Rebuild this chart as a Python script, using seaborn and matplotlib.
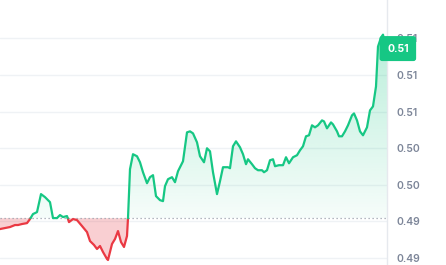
import numpy as np
import pandas as pd
import matplotlib
matplotlib.use("Agg")
import matplotlib.pyplot as plt
import seaborn as sns
from matplotlib.colors import LinearSegmentedColormap, to_rgba
from matplotlib.path import Path
from matplotlib.transforms import blended_transform_factory

# ---- data ----
time_idx = [0, 5, 10, 15, 18, 22, 27, 30, 33, 37, 41, 45, 50, 53, 57, 60, 63, 67, 69, 73,
            77, 82, 87, 90, 94, 97, 100, 103, 107, 108, 112, 115, 118, 121, 124, 127, 128,
            130, 133, 137, 140, 143, 147, 150, 153, 156, 160, 163, 165, 168, 172, 175, 178,
            183, 187, 190, 193, 197, 200, 204, 207, 210, 213, 217, 220, 223, 228, 230, 233,
            236, 240, 243, 246, 248, 252, 255, 258, 262, 264, 267, 270, 273, 275, 279, 283,
            286, 289, 293, 297, 300, 303, 306, 309, 312, 315, 318, 322, 324, 327, 331, 333,
            337, 339, 342, 345, 348, 352, 354, 357, 360, 363, 367, 370, 373, 376, 378, 381,
            383, 385, 387]
price = [0.49316, 0.49327, 0.49338, 0.49360, 0.49360, 0.49371, 0.49381, 0.49425, 0.49480,
         0.49501, 0.49698, 0.49665, 0.49610, 0.49436, 0.49436, 0.49469, 0.49447, 0.49458,
         0.49392, 0.49425, 0.49414, 0.49349, 0.49283, 0.49185, 0.49142, 0.49098, 0.49131,
         0.49065, 0.48989, 0.48978, 0.49153, 0.49207, 0.49294, 0.49174, 0.49120, 0.49240,
         0.49436, 0.49970, 0.50134, 0.50112, 0.50046, 0.49937, 0.49817, 0.49883, 0.49905,
         0.49676, 0.49632, 0.49621, 0.49785, 0.49861, 0.49883, 0.49828, 0.49948, 0.50057,
         0.50373, 0.50384, 0.50362, 0.50264, 0.50112, 0.50046, 0.50199, 0.50166, 0.49937,
         0.49698, 0.49839, 0.49992, 0.49992, 0.49981, 0.50221, 0.50275, 0.50210, 0.50134,
         0.50025, 0.50079, 0.50025, 0.49981, 0.49959, 0.49959, 0.49937, 0.49959, 0.50068,
         0.50079, 0.50003, 0.50014, 0.50014, 0.50101, 0.50035, 0.50101, 0.50123, 0.50177,
         0.50221, 0.50330, 0.50341, 0.50450, 0.50428, 0.50450, 0.50504, 0.50493, 0.50417,
         0.50482, 0.50460, 0.50384, 0.50330, 0.50330, 0.50384, 0.50450, 0.50559, 0.50580,
         0.50504, 0.50384, 0.50341, 0.50428, 0.50613, 0.50657, 0.50875, 0.51311, 0.51409,
         0.51441, 0.51332, 0.51289]
baseline = 0.49435
tick_values = [0.490, 0.494, 0.498, 0.502, 0.506, 0.510, 0.514]
tick_labels = ["0.49", "0.49", "0.50", "0.50", "0.51", "0.51", "0.51"]
current_label = "0.51"

GREEN = "#16c784"
RED = "#ea3943"
GRID = "#eff2f5"
LABEL = "#7d8699"

t = np.array(time_idx, dtype=float)
p = np.array(price, dtype=float)

# split line into above / below baseline segments
rows = []
seg = 0
side = p[0] >= baseline
rows.append((t[0], p[0], seg, "up" if side else "down"))
for i in range(1, len(t)):
    s = p[i] >= baseline
    if s != side:
        f = (baseline - p[i - 1]) / (p[i] - p[i - 1])
        xc = t[i - 1] + f * (t[i] - t[i - 1])
        rows.append((xc, baseline, seg, "up" if side else "down"))
        seg += 1
        side = s
        rows.append((xc, baseline, seg, "up" if side else "down"))
    rows.append((t[i], p[i], seg, "up" if side else "down"))
df = pd.DataFrame(rows, columns=["t", "price", "seg", "side"])

sns.set_theme(style="white")
fig = plt.figure(figsize=(4.46, 2.65), dpi=100)
ax = fig.add_axes([0, 0, 387 / 446, 1])

ymin, ymax = 0.48923, 0.51820
xmin, xmax = t[0], t[-1]

# grid
for v in tick_values:
    ax.axhline(v, color=GRID, lw=1.0, zorder=0)

# green gradient fill
poly = ax.fill_between(t, p, baseline, where=p >= baseline, interpolate=True,
                       facecolor="none", edgecolor="none")
path = Path.make_compound_path(*poly.get_paths())
cmap_g = LinearSegmentedColormap.from_list(
    "g", [to_rgba(GREEN, 0.04), to_rgba(GREEN, 0.30)])
grad = np.linspace(0, 1, 256).reshape(-1, 1)
im = ax.imshow(grad, extent=[xmin, xmax, baseline, 0.5145], origin="lower",
               aspect="auto", cmap=cmap_g, zorder=1, interpolation="bicubic")
im.set_clip_path(path, ax.transData)

# red fill
ax.fill_between(t, p, baseline, where=p < baseline, interpolate=True,
                facecolor=RED, alpha=0.24, edgecolor="none", zorder=1)

# baseline dotted
ax.axhline(baseline, color="#9aa1ad", lw=0.9, ls=(0, (1, 2.2)), zorder=2)

# line
sns.lineplot(data=df, x="t", y="price", hue="side", units="seg", estimator=None,
             palette={"up": GREEN, "down": RED}, legend=False, lw=1.6, sort=False,
             ax=ax, zorder=3)

ax.set_xlim(xmin, xmax)
ax.set_ylim(ymin, ymax)
ax.set_xlabel("")
ax.set_ylabel("")
ax.set_xticks([])
ax.yaxis.tick_right()
ax.set_yticks(tick_values)
ax.set_yticklabels(tick_labels)
ax.tick_params(axis="y", length=0, pad=7, labelsize=7.5, labelcolor=LABEL)
for lab in ax.get_yticklabels():
    lab.set_fontfamily(["Inter", "DejaVu Sans"])
    lab.set_fontweight("semibold")
for sp in ["top", "left", "bottom"]:
    ax.spines[sp].set_visible(False)
ax.spines["right"].set_color("#e6e9ee")
ax.spines["right"].set_linewidth(1.0)

# current price tag
tr = blended_transform_factory(ax.transAxes, ax.transData)
ax.text(1.0, p[-1], current_label, transform=tr, ha="left", va="center",
        fontsize=7.5, fontweight="bold", color="white", family=["Inter", "DejaVu Sans"],
        bbox=dict(boxstyle="round,pad=0.72,rounding_size=0.25", fc=GREEN, ec="none"),
        zorder=10, clip_on=False)

fig.savefig("out.png", dpi=100)
